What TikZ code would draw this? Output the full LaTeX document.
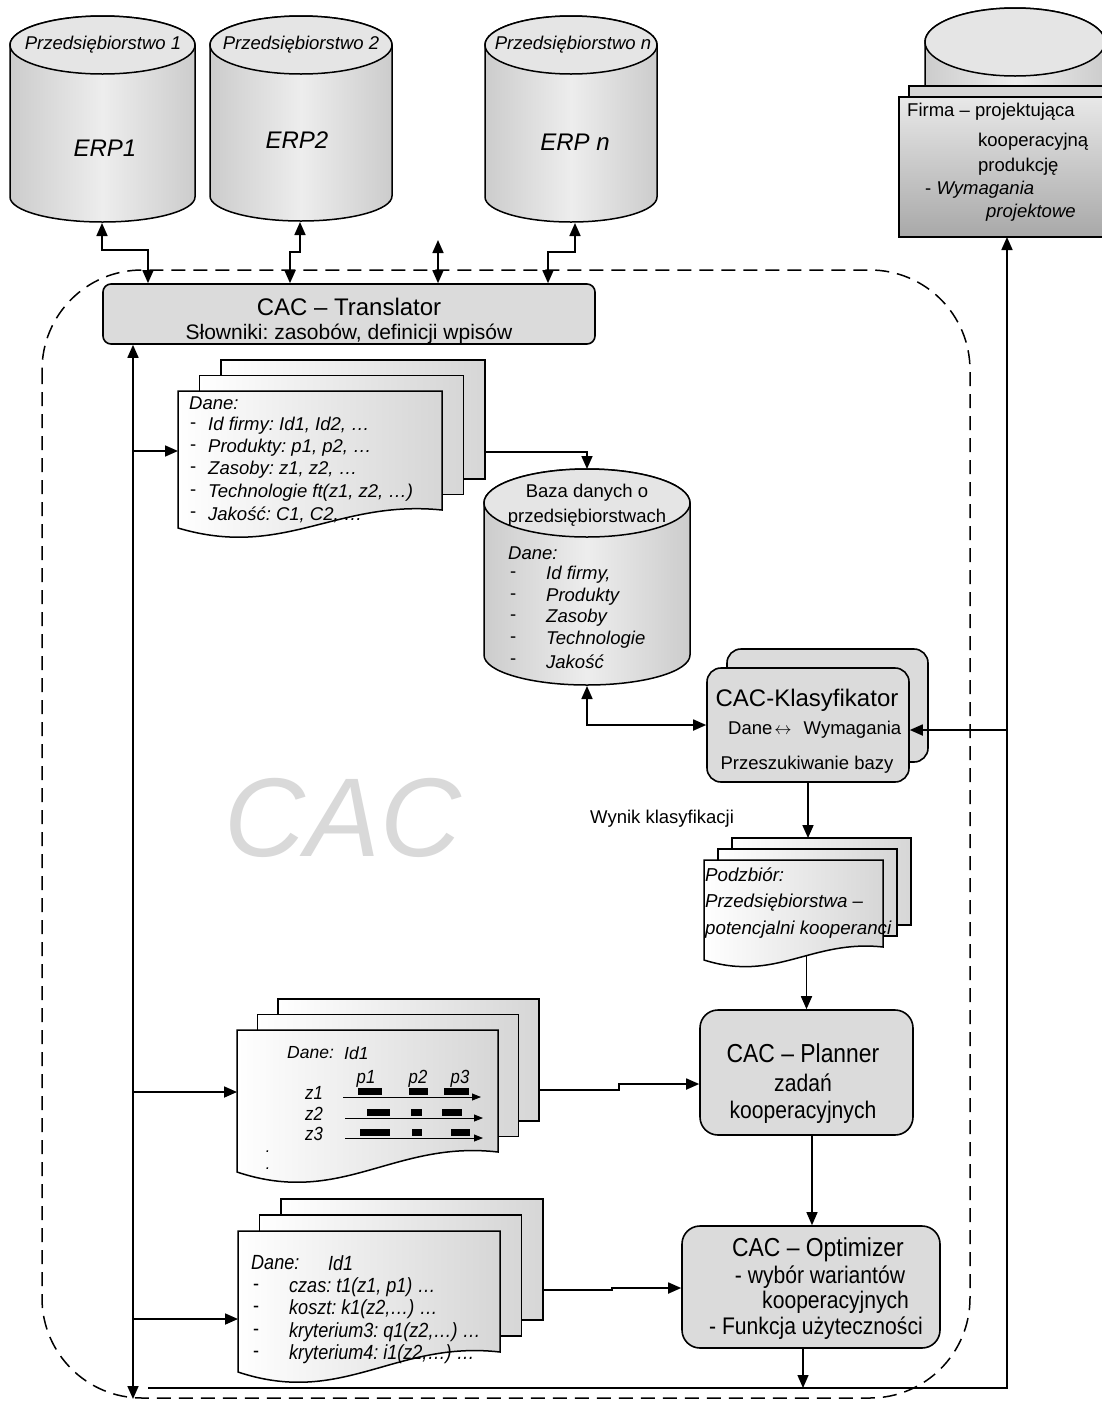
\documentclass[tikz,border=0pt]{standalone}
\usepackage{fontspec}
\setmainfont{Liberation Sans}
\newfontfamily\narrowfont[FakeStretch=0.88]{Liberation Sans}
\usetikzlibrary{arrows.meta,calc}
\frenchspacing
\definecolor{boxgray}{gray}{0.86}
\definecolor{cylside}{gray}{0.80}
\definecolor{cylmid}{gray}{0.93}
\definecolor{cyltop}{gray}{0.90}
\definecolor{docgray}{gray}{0.84}
\definecolor{wmark}{gray}{0.85}
\newcommand\fsz[1]{\fontsize{#1}{#1}\selectfont}
% cylinder: cx, rx, ytop, ry top, ybottom, ry bottom
\newcommand\cylbody[6]{%
  \path[draw=black,line width=1.5pt,left color=cylside,right color=cylside,middle color=cylmid]
    (#1-#2,#3) -- (#1-#2,#5)
    .. controls (#1-#2,#5+0.5523*#6) and (#1-0.5523*#2,#5+#6) .. (#1,#5+#6)
    .. controls (#1+0.5523*#2,#5+#6) and (#1+#2,#5+0.5523*#6) .. (#1+#2,#5)
    -- (#1+#2,#3)
    .. controls (#1+#2,#3-0.5523*#4) and (#1+0.5523*#2,#3-#4) .. (#1,#3-#4)
    .. controls (#1-0.5523*#2,#3-#4) and (#1-#2,#3-0.5523*#4) .. (#1-#2,#3) -- cycle;
  \draw[line width=1.5pt,fill=cyltop] (#1,#3) ellipse [x radius=#2,y radius=#4];
}
% document stack: x0, ytop, w, dx, dy, y right end, y left end
\newcommand\docstack[7]{%
  \path[draw=black,line width=1.5pt,left color=white,right color=docgray]
    (#1+2*#4,#2-2*#5) rectangle (#1+2*#4+#3,#6-2*#5);
  \path[draw=black,line width=1.5pt,left color=white,right color=docgray]
    (#1+#4,#2-#5) rectangle (#1+#4+#3,#6-#5);
  \path[draw=black,line width=1.5pt,left color=white,right color=docgray]
    (#1,#2) -- (#1+#3,#2) -- (#1+#3,#6)
    .. controls (#1+0.6*#3,#6-0.6*#7+0.6*#6) and (#1+0.4*#3,#7+1.75*#7-1.75*#6) .. (#1,#7) -- cycle;
}
\begin{document}
\begin{tikzpicture}[x=1pt,y=-1pt,
  arr/.style={line width=1.7pt,-{Triangle[length=13pt,width=11pt]}},
  darr/.style={line width=1.7pt,{Triangle[length=13pt,width=11pt]}-{Triangle[length=13pt,width=11pt]}},
  tarr/.style={line width=1.3pt,-{Triangle[length=13pt,width=11pt]}},
  larr/.style={line width=0.9pt,-{Triangle[length=9pt,width=7pt]}},
  box/.style={draw,line width=1.6pt,fill=boxgray,inner sep=0pt},
  t/.style={inner sep=0pt,anchor=west},
  tc/.style={inner sep=0pt},
  region/.style={line width=1.5pt,dash pattern=on 14pt off 8pt,rounded corners=100pt},
]
\path[use as bounding box] (0,0) rectangle (1102,1401);
\clip (0,0) rectangle (1102,1401);
\fill[white] (0,0) rectangle (1102,1401);

% watermark
\node[tc,text=wmark,font=\fsz{112}\itshape] (wm) at (343,818) {CAC};

% dashed region
\draw[region] (42,270) rectangle (970,1398);

% ERP cylinders
\cylbody{102.5}{92.5}{45}{29}{197}{25}
\cylbody{301}{91}{45}{29}{196}{25}
\cylbody{571}{86}{45}{29}{197}{25}
\coordinate (e1) at (102,223);
\coordinate (e2) at (300,222);
\coordinate (en) at (575,223);

% Firma
\cylbody{1015}{90}{42}{34}{100}{10}
\draw[line width=1.5pt,fill=black!16] (909,86) rectangle (1110,110);
\path[draw=black,line width=1.5pt,top color=black!9,bottom color=black!34] (899,97) rectangle (1110,237);
\coordinate (firmab) at (1007,237);

% Baza cylinder
\cylbody{587}{103}{503}{34}{655}{30}
\coordinate (bazat) at (587,469);
\coordinate (bazab) at (587,686);

% document stacks
\docstack{178}{391}{264}{21.5}{15.5}{510}{528}
\docstack{704}{860}{179}{14}{11}{947}{960}
\docstack{237}{1030}{261}{20.5}{15.5}{1152}{1172}
\docstack{238}{1231}{262}{21.5}{16}{1352}{1372}

% boxes
\node[box,rounded corners=8pt,minimum width=492pt,minimum height=60pt] (tr) at (349,314) {};
\node[box,rounded corners=14pt,minimum width=201pt,minimum height=113pt] (kb) at (827.5,705.5) {};
\node[box,rounded corners=14pt,minimum width=202pt,minimum height=114pt] (kf) at (808,725) {};
\node[box,rounded corners=18pt,minimum width=213pt,minimum height=125pt] (pl) at (806.5,1072.5) {};
\node[box,rounded corners=18pt,minimum width=258pt,minimum height=122pt] (op) at (811,1287) {};

% connectors top
\coordinate (j1) at (148,250);
\coordinate (j2) at (290,252);
\coordinate (jn) at (548,252);
\coordinate (m) at (438,240);
\draw[darr] (e1) |- (j1) -- (j1 |- tr.north);
\draw[darr] (e2) |- (j2) -- (j2 |- tr.north);
\draw[darr] (en) |- (jn) -- (jn |- tr.north);
\draw[darr] (m) -- (m |- tr.north);

% bus
\coordinate (busb) at (133,1399);
\draw[darr] (busb) -- (busb |- tr.south);
\coordinate (d1w) at (178,451);
\coordinate (d3w) at (237,1092);
\coordinate (d4w) at (238,1319);
\draw[arr] (d1w -| busb) -- (d1w);
\draw[arr] (d3w -| busb) -- (d3w);
\draw[arr] (d4w -| busb) -- (d4w);

% doc1 -> baza
\coordinate (d1e) at (485,452);
\draw[arr] (d1e) -| (bazat);
% baza <-> klasyfikator
\draw[darr] (bazab) |- (kf.west);
% firma line
\coordinate (bl) at (148,1388);
\coordinate (fc) at (1007,1388);
\coordinate (fj) at (1007,730);
\draw[arr] (bl) -- (fc) -- (firmab);
\draw[arr] (fj) -- (fj -| kf.east);
% klasyfikator -> podzbior
\coordinate (pzt) at (808,838);
\draw[arr] (kf.south) -- (pzt);
% podzbior -> planner
\coordinate (pzb) at (806.5,955);
\draw[arr] (pzb) -- (pl.north);
% planner -> optimizer
\draw[tarr] (pl.south -| 812,0) -- (op.north -| 812,0);
% planner doc -> planner
\coordinate (d3e) at (539,1090);
\coordinate (d3k) at (619,1084);
\draw[arr] (d3e) -- (d3e -| d3k) -- (d3k) -- (d3k -| pl.west);
% optimizer doc -> optimizer
\coordinate (d4e) at (543,1290);
\coordinate (d4k) at (612,1288);
\draw[arr] (d4e) -- (d4e -| d4k) -- (d4k) -- (d4k -| op.west);
% optimizer -> bottom
\coordinate (ob) at (803,1388);
\draw[tarr] (op.south -| ob) -- (ob);

% ERP texts
\node[tc,font=\fsz{18.5}\itshape] (p1t) at (103,45) {Przedsiębiorstwo 1};
\node[tc,font=\fsz{18.5}\itshape] (p2t) at (301,45) {Przedsiębiorstwo 2};
\node[tc,font=\fsz{18.5}\itshape] (pnt) at (573,45) {Przedsiębiorstwo n};
\node[tc,font=\fsz{24}\itshape] (erp1) at (105,148) {ERP1};
\node[tc,font=\fsz{24}\itshape] (erp2) at (297,140) {ERP2};
\node[tc,font=\fsz{24}\itshape] (erpn) at (575,142) {ERP n};

% Firma texts
\node[t,font=\fsz{18.5}] (f1) at (907,112) {Firma – projektująca};
\node[t,font=\fsz{18.5}] (f2) at (978,142) {kooperacyjną};
\node[t,font=\fsz{18.5}] (f3) at (978,167) {produkcję};
\node[t,font=\fsz{18.5}] (f4) at (925,190) {- \textit{Wymagania}};
\node[t,font=\fsz{18.5}\itshape] (f5) at (986,213) {projektowe};

% Translator texts
\node[tc,font=\fsz{24}] (tr1) at (349,307) {CAC – Translator};
\node[tc,font=\fsz{21}] (tr2) at (349,334) {Słowniki: zasobów, definicji wpisów};

% doc1 texts
\node[t,font=\fsz{18.5}\itshape] (a0) at (189,403) {Dane:};
\foreach \y/\s [count=\i] in {426/Id firmy: Id1{,} Id2{,} …,448/Produkty: p1{,} p2{,} …,470/Zasoby: z1{,} z2{,} …,493/Technologie ft(z1{,} z2{,} …),515/Jakość: C1{,} C2{,} …}{
  \node[t,font=\fsz{18.5}] (ad\i) at (190,\y) {-};
  \node[t,font=\fsz{18.5}\itshape] (a\i) at (208,\y) {\s};
}

% Baza texts
\node[tc,font=\fsz{18.5}] (b1) at (587,493) {Baza danych o};
\node[tc,font=\fsz{18.5}] (b2) at (587,518) {przedsiębiorstwach};
\node[t,font=\fsz{18.5}\itshape] (b3) at (508,553) {Dane:};
\foreach \y/\s [count=\i] in {575/Id firmy{,},597/Produkty,618/Zasoby,640/Technologie,662/Jakość}{
  \node[t,font=\fsz{18.5}] (bd\i) at (510,\y) {-};
  \node[t,font=\fsz{18.5}\itshape] (bi\i) at (546,\y) {\s};
}

% Klasyfikator texts
\node[tc,font=\fsz{24}] (k1) at (807,700) {CAC-Klasyfikator};
\node[t,font=\fsz{18.5}] (k2) at (728,730) {Dane\hspace{2pt}$\leftrightarrow$\hspace{12pt}Wymagania};
\node[tc,font=\fsz{18.5}] (k3) at (807,765) {Przeszukiwanie bazy};
\node[t,font=\fsz{18.5}] (wk) at (590,819) {Wynik klasyfikacji};

% Podzbior texts
\node[t,font=\fsz{18.7}\itshape] (z1t) at (705,875) {Podzbiór:};
\node[t,font=\fsz{18.7}\itshape] (z2t) at (705,903) {Przedsiębiorstwa –};
\node[t,font=\fsz{18.7}\itshape] (z3t) at (705,930) {potencjalni kooperanci};

% Planner doc contents
\node[t,font=\fsz{17.5}\itshape] (c0) at (287,1053) {Dane:};
\node[t,font=\fsz{17.5}\itshape] (c0b) at (344,1053) {Id1};
\node[tc,font=\narrowfont\fsz{19}\itshape] (pp1) at (366,1079) {p1};
\node[tc,font=\narrowfont\fsz{19}\itshape] (pp2) at (418,1079) {p2};
\node[tc,font=\narrowfont\fsz{19}\itshape] (pp3) at (460,1079) {p3};
\node[tc,font=\narrowfont\fsz{19}\itshape] (zz1) at (314,1093) {z1};
\node[tc,font=\narrowfont\fsz{19}\itshape] (zz2) at (314,1114) {z2};
\node[tc,font=\narrowfont\fsz{19}\itshape] (zz3) at (314,1134) {z3};
\coordinate (l1a) at (343,1097); \coordinate (l1b) at (481,1097);
\coordinate (l2a) at (345,1118); \coordinate (l2b) at (483,1118);
\coordinate (l3a) at (345,1138); \coordinate (l3b) at (483,1138);
\draw[larr] (l1a) -- (l1b);
\draw[larr] (l2a) -- (l2b);
\draw[larr] (l3a) -- (l3b);
\fill (358,1088) rectangle (382,1095);
\fill (409,1088) rectangle (428,1095);
\fill (444,1088) rectangle (469,1095);
\fill (367,1109) rectangle (390,1116);
\fill (411,1109) rectangle (422,1116);
\fill (442,1109) rectangle (462,1116);
\fill (360,1129) rectangle (390,1136);
\fill (412,1129) rectangle (422,1136);
\fill (451,1129) rectangle (470,1136);
\node[tc,font=\fsz{16}\itshape] (dt1) at (268,1152) {.};
\node[tc,font=\fsz{16}\itshape] (dt2) at (268,1169) {.};

% Planner texts
\node[tc,font=\narrowfont\fsz{26}] (pl1) at (803,1053) {CAC – Planner};
\node[tc,font=\narrowfont\fsz{24}] (pl2) at (803,1083) {zadań};
\node[tc,font=\narrowfont\fsz{24}] (pl3) at (803,1112) {kooperacyjnych};

% Optimizer doc contents
\node[t,font=\narrowfont\fsz{20.5}\itshape] (o0) at (251,1263) {Dane:};
\node[t,font=\narrowfont\fsz{20.5}\itshape] (o0b) at (328,1263) {Id1};
\foreach \y/\s [count=\i] in {1287/czas: t1(z1{,} p1) …,1309/koszt: k1(z2{,}…) …,1332/kryterium3: q1(z2{,}…) …,1354/kryterium4: i1(z2{,}…) …}{
  \node[t,font=\narrowfont\fsz{20.5}] (od\i) at (253,\y) {-};
  \node[t,font=\narrowfont\fsz{20.5}\itshape] (oi\i) at (289,\y) {\s};
}

% Optimizer texts
\node[tc,font=\narrowfont\fsz{26}] (op1) at (818,1250) {CAC – Optimizer};
\node[tc,font=\narrowfont\fsz{24}] (op2) at (820,1277) {- wybór wariantów};
\node[t,font=\narrowfont\fsz{24}] (op3) at (762,1302) {kooperacyjnych};
\node[t,font=\narrowfont\fsz{24}] (op4) at (709,1328) {- Funkcja użyteczności};
\end{tikzpicture}
\end{document}
